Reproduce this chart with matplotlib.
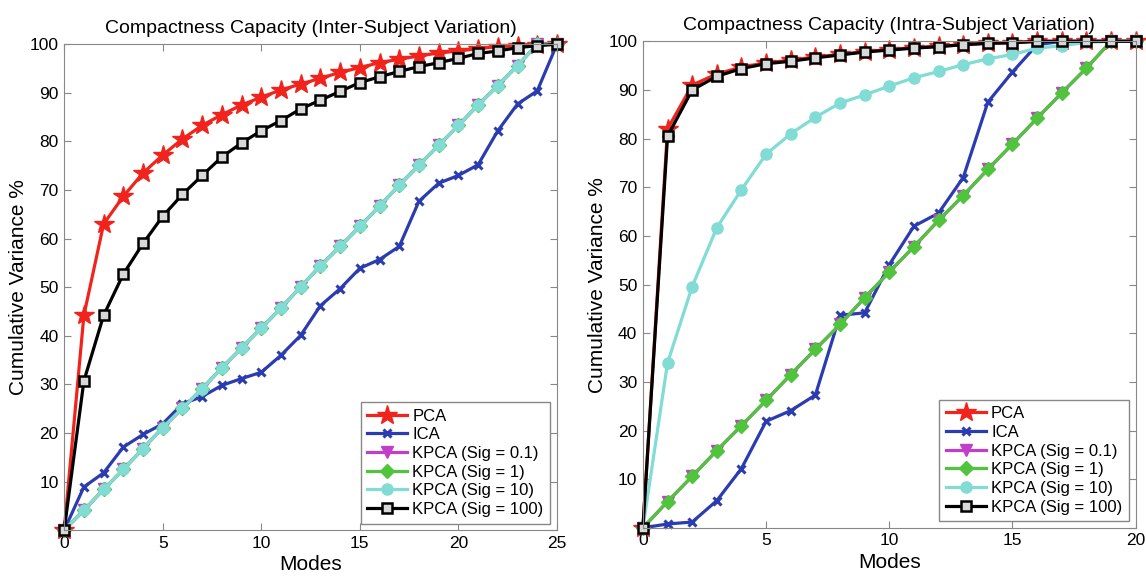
"""Cumulative variance vs. number of modes for PCA, ICA and kernel PCA."""

import numpy as np
from matplotlib import pyplot as plt

plt.rcParams["font.family"] = ["Liberation Sans", "DejaVu Sans"]

# Inter-subject variation (modes 0..25)
inter_modes = np.arange(0, 26)
inter_pca = [0, 44.2, 63.0, 68.7, 73.5, 77.2, 80.5, 83.3, 85.5, 87.5, 89.1, 90.6, 91.8,
             93.0, 94.2, 95.2, 96.2, 96.9, 97.6, 98.2, 98.6, 99.1, 99.5, 99.7, 99.9, 100]
inter_ica = [0, 8.9, 11.8, 17.1, 19.7, 21.9, 26.0, 27.5, 29.8, 31.2, 32.5, 36.0, 40.1,
             46.2, 49.7, 53.9, 55.7, 58.4, 67.7, 71.4, 73.0, 75.2, 82.2, 87.7, 90.4, 100]
inter_kpca_lin = [0, 4.1, 8.4, 12.5, 16.8, 21.1, 25.1, 29.1, 33.4, 37.5, 41.6, 45.7, 50.1,
                  54.4, 58.4, 62.5, 66.7, 71.0, 75.1, 79.2, 83.3, 87.5, 91.5, 95.6, 100, 100]
inter_kpca_100 = [0, 30.7, 44.2, 52.7, 59.0, 64.6, 69.1, 73.0, 76.8, 79.7, 82.2, 84.3, 86.7,
                  88.5, 90.3, 92.1, 93.3, 94.4, 95.4, 96.2, 97.1, 98.1, 98.6, 99.3, 99.7, 100]

# Intra-subject variation (modes 0..20)
intra_modes = np.arange(0, 21)
intra_pca = [0, 82.0, 91.0, 93.3, 94.7, 95.6, 96.1, 96.8, 97.3, 97.9, 98.3, 98.7, 99.0,
             99.3, 99.6, 99.7, 100, 100, 100, 100, 100]
intra_ica = [0, 0.8, 1.2, 5.6, 12.2, 21.9, 24.1, 27.3, 43.7, 44.2, 54.1, 62.0, 64.7,
             72.0, 87.5, 93.7, 99.3, 100, 100, 100, 100]
intra_kpca_lin = [0, 5.4, 10.6, 15.9, 21.0, 26.2, 31.5, 36.7, 41.8, 47.3, 52.6, 57.8, 63.2,
                  68.3, 73.7, 78.9, 84.2, 89.4, 94.5, 100, 100]
intra_kpca_10 = [0, 33.9, 49.6, 61.7, 69.5, 76.8, 81.0, 84.4, 87.3, 89.0, 90.8, 92.5, 93.8,
                 95.2, 96.4, 97.3, 98.6, 99.1, 99.8, 100, 100]
intra_kpca_100 = [0, 80.5, 90.0, 92.8, 94.4, 95.4, 95.9, 96.6, 97.2, 97.8, 98.2, 98.6, 98.9,
                  99.3, 99.6, 99.7, 100, 100, 100, 100, 100]

labels = ["PCA", "ICA", "KPCA (Sig = 0.1)", "KPCA (Sig = 1)", "KPCA (Sig = 10)",
          "KPCA (Sig = 100)"]
styles = [
    dict(color="#f0241c", marker="*", ms=15),
    dict(color="#2b3cb0", marker="x", ms=6, mew=2.2),
    dict(color="#c03ec8", marker="v", ms=8),
    dict(color="#4fc43c", marker="D", ms=7),
    dict(color="#80dcd4", marker="o", ms=8),
    dict(color="black", marker="s", ms=7, mfc="#d8d8d8", mew=1.8),
]


def draw_panel(ax, modes, series, xmax, title):
    for values, label, style in zip(series, labels, styles):
        ax.plot(modes, values, label=label, lw=2.3, clip_on=False, **style)
    ax.set_xlim(0, xmax)
    ax.set_ylim(0, 100)
    ax.set_xticks(np.arange(0, xmax + 1, 5))
    ax.set_yticks(np.arange(0, 101, 10))
    ax.set_yticklabels([""] + [str(v) for v in range(10, 101, 10)])
    ax.tick_params(direction="in", top=True, right=True, length=5, labelsize=12.5,
                   color="#888888", pad=4)
    for spine in ax.spines.values():
        spine.set_color("#888888")
    ax.set_title(title, fontsize=14, pad=8)
    ax.set_xlabel("Modes", fontsize=15, labelpad=3)
    ax.set_ylabel("Cumulative Variance %", fontsize=15, labelpad=1)
    leg = ax.legend(loc="lower right", fontsize=12, numpoints=1, handlelength=2.4,
                    fancybox=False, framealpha=1, borderaxespad=0.4,
                    labelspacing=0.22, handletextpad=0.3, borderpad=0.4)
    leg.get_frame().set_edgecolor("#888888")


fig = plt.figure(figsize=(11.46, 5.82), dpi=100)
ax1 = fig.add_axes([0.056, 0.089, 0.430, 0.835])
ax2 = fig.add_axes([0.561, 0.093, 0.430, 0.836])

draw_panel(ax1, inter_modes,
           [inter_pca, inter_ica, inter_kpca_lin, inter_kpca_lin, inter_kpca_lin,
            inter_kpca_100],
           25, "Compactness Capacity (Inter-Subject Variation)")
draw_panel(ax2, intra_modes,
           [intra_pca, intra_ica, intra_kpca_lin, intra_kpca_lin, intra_kpca_10,
            intra_kpca_100],
           20, "Compactness Capacity (Intra-Subject Variation)")

fig.savefig("out.png", dpi=100)
